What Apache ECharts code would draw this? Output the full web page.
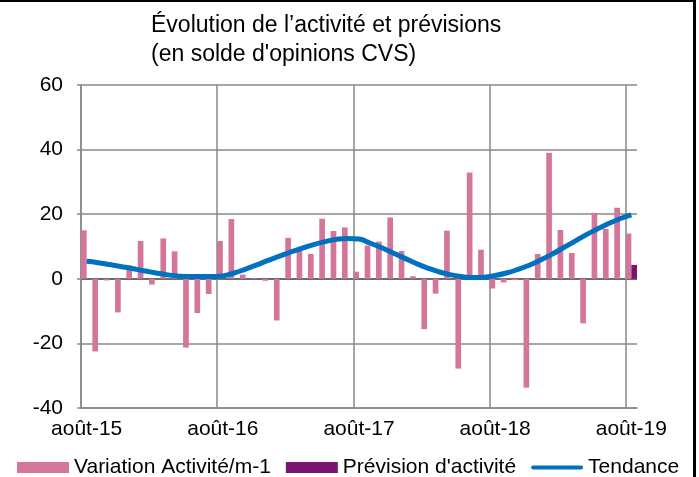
<!DOCTYPE html>
<html>
<head>
<meta charset="utf-8">
<script src="https://cdn.jsdelivr.net/npm/echarts@6/dist/echarts.min.js"></script>
<style>
  html, body { margin: 0; padding: 0; background: #fff; }
  #chart { width: 699px; height: 477px; }
</style>
</head>
<body>
<div id="chart"></div>
<script>
// mois : août-15 à août-19
const months = []
for (let y = 15; y <= 19; y++) {
  const names = y === 15 ? ['août', 'sept', 'oct', 'nov', 'déc'] : y === 19
    ? ['janv', 'févr', 'mars', 'avr', 'mai', 'juin', 'juil', 'août']
    : ['janv', 'févr', 'mars', 'avr', 'mai', 'juin', 'juil', 'août', 'sept', 'oct', 'nov', 'déc']
  names.forEach(n => months.push(n + '-' + y))
}

// variation de l'activité sur un mois
const variation = [
  15.0, -22.5, -0.5, -10.4, 4.1, 11.7, -1.8, 12.5, 8.5, -21.3, -10.6, -4.7,
  11.7, 18.5, 1.3, 0.3, -0.6, -12.9, 12.7, 9.8, 7.7, 18.6, 14.8, 15.9,
  2.2, 10.3, 11.5, 19.0, 8.6, 0.8, -15.6, -4.6, 14.9, -27.8, 32.9, 9.0,
  -3.0, -1.1, -0.4, -33.7, 7.7, 39.0, 15.1, 8.0, -13.8, 20.4, 15.4, 22.0,
  14.0
]

// prévision (dernier mois seulement)
const prevision = new Array(48).fill('-').concat([4.3])

// tendance lissée
const tendance = [
  5.4, 5.0, 4.4, 3.8, 3.2, 2.5, 1.9, 1.3, 0.9, 0.7, 0.7, 0.7,
  0.9, 1.8, 3.0, 4.3, 5.7, 7.0, 8.3, 9.5, 10.6, 11.5, 12.2, 12.5,
  12.3, 11.0, 9.6, 8.0, 6.4, 4.8, 3.4, 2.2, 1.3, 0.7, 0.4, 0.5,
  1.0, 1.8, 2.9, 4.2, 5.8, 7.6, 9.6, 11.6, 13.6, 15.4, 17.1, 18.6,
  19.8
]

const yTicks = [-40, -20, 0, 20, 40, 60]

const font = "'Liberation Sans', Arial, sans-serif"
const gridColor = '#898989'

const chart = echarts.init(document.getElementById('chart'))

chart.setOption({
  animation: false,
  textStyle: { fontFamily: font },
  title: {
    text: 'Évolution de l’activité et prévisions\n(en solde d\'opinions CVS)',
    left: 146,
    top: 6,
    textStyle: { fontSize: 23, fontWeight: 'normal', color: '#000', lineHeight: 29, fontFamily: font }
  },
  graphic: [
    { type: 'rect', shape: { x: 0, y: 0, width: 696, height: 2 }, style: { fill: '#000' } },
    { type: 'rect', shape: { x: 693, y: 0, width: 3, height: 477 }, style: { fill: '#000' } }
  ],
  legend: {
    left: 12,
    top: 452,
    itemWidth: 52,
    itemHeight: 11,
    itemGap: 15,
    textStyle: { fontSize: 21, color: '#000', fontFamily: font },
    data: [
      { name: 'Variation Activité/m-1', icon: 'rect' },
      { name: 'Prévision d\'activité', icon: 'rect' },
      // trait arrondi, fin, centré dans la case de légende
      { name: 'Tendance', icon: 'path://M0,0L0,0.01M2,3.5L50,3.5A2,2 0 0 1 50,7.5L2,7.5A2,2 0 0 1 2,3.5ZM52,11L52,10.99' }
    ]
  },
  grid: { left: 81, right: 62, top: 85, bottom: 69 },
  xAxis: {
    type: 'category',
    data: months,
    boundaryGap: true,
    axisLine: { onZero: false, lineStyle: { color: gridColor, width: 1.5 } },
    axisTick: { interval: 11, length: 5, lineStyle: { color: gridColor, width: 1.5 } },
    axisLabel: { interval: 11, fontSize: 21, color: '#000', margin: 11 },
    splitLine: { show: true, interval: 11, showMaxLine: false, lineStyle: { color: gridColor, width: 1.5 } }
  },
  yAxis: {
    type: 'value',
    min: yTicks[0],
    max: yTicks[yTicks.length - 1],
    interval: 20,
    axisLine: { show: true, lineStyle: { color: gridColor, width: 1.5 } },
    axisTick: { show: true, length: 4, lineStyle: { color: gridColor, width: 1.5 } },
    axisLabel: { fontSize: 21, color: '#000', margin: 18 },
    splitLine: {
      lineStyle: { color: ['#898989', '#898989', '#3a3a3a', '#898989', '#898989', '#898989'], width: 1.5 }
    }
  },
  series: [
    {
      name: 'Variation Activité/m-1',
      type: 'bar',
      data: variation,
      barGap: '0%',
      barCategoryGap: '0%',
      itemStyle: { color: '#D4759A' }
    },
    {
      name: 'Prévision d\'activité',
      type: 'bar',
      data: prevision,
      itemStyle: { color: '#7B1370' }
    },
    {
      name: 'Tendance',
      type: 'line',
      data: tendance,
      smooth: true,
      showSymbol: false,
      symbol: 'none',
      lineStyle: { color: '#0070C0', width: 5 },
      itemStyle: { color: '#0070C0' }
    }
  ]
})
</script>
</body>
</html>
